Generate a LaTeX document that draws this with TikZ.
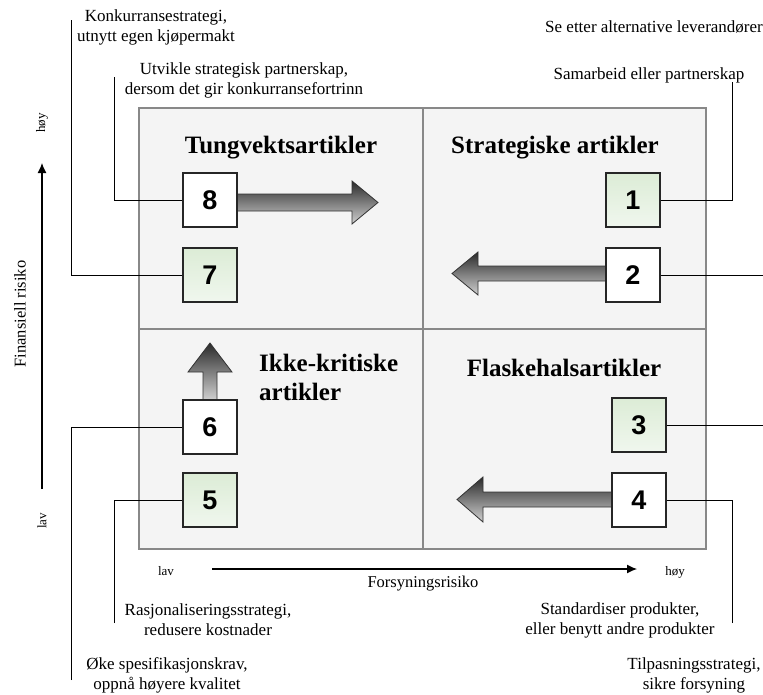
\documentclass[tikz,border=0pt]{standalone}
\usepackage{fontspec}
\setmainfont{Liberation Serif}
\newfontfamily\numfont{Liberation Sans}
\usetikzlibrary{arrows.meta}
\definecolor{quadfill}{HTML}{F4F4F4}
\definecolor{quadline}{HTML}{888888}
\definecolor{greentop}{HTML}{DCECD6}
\definecolor{greenbot}{HTML}{F0F7EE}
\definecolor{arrdark}{HTML}{2A2A2A}
\definecolor{arrlight}{HTML}{D0D0D0}
\tikzset{
  quad/.style={draw=quadline, line width=1.5pt, fill=quadfill},
  numbox/.style={draw=black!85, line width=1.1pt, minimum size=54pt, inner sep=0pt,
    font=\numfont\bfseries\fontsize{27}{27}\selectfont, fill=white},
  greenbox/.style={numbox, top color=greentop, bottom color=greenbot},
  note/.style={align=center, font=\fontsize{17}{20}\selectfont, inner sep=0pt},
  quadtitle/.style={font=\bfseries\fontsize{25}{29}\selectfont, inner sep=0pt},
  axislab/.style={font=\fontsize{13}{15}\selectfont, inner sep=0pt},
  axistitle/.style={font=\fontsize{16.5}{19}\selectfont, inner sep=0pt},
  conn/.style={draw=black, line width=1pt},
  bigarrow/.style={draw=black!80, line width=0.8pt, top color=arrdark, bottom color=arrlight},
  axisarrow/.style={draw=black, line width=1.2pt, -{Latex[length=10pt,width=9pt]}}
}
\begin{document}
\begin{tikzpicture}[x=1pt, y=-1pt]
\useasboundingbox (0,0) rectangle (763,694);
\fill[white] (0,0) rectangle (763,694);

% quadrants
\draw[quad] (139,108) rectangle (706,549);
\draw[quadline, line width=1.5pt] (423,108) -- (423,549);
\draw[quadline, line width=1.5pt] (139,329) -- (706,329);

% quadrant titles
\node[quadtitle] (qtl) at (281,148) {Tungvektsartikler};
\node[quadtitle] (qtr) at (555,148) {Strategiske artikler};
\node[quadtitle, align=left, anchor=west] (qbl) at (259,377) {Ikke-kritiske\\artikler};
\node[quadtitle] (qbr) at (564,368) {Flaskehalsartikler};

% arrows (drawn before boxes)
\draw[bigarrow] (237,194) -- (352,194) -- (352,181) -- (378,202.5) -- (352,224) -- (352,211) -- (237,211) -- cycle;
\draw[bigarrow] (606,266) -- (478,266) -- (478,252) -- (452,273.5) -- (478,295) -- (478,281) -- (606,281) -- cycle;
\draw[bigarrow] (612,492) -- (483,492) -- (483,477) -- (457,499.5) -- (483,522) -- (483,507) -- (612,507) -- cycle;
\draw[bigarrow] (203,400) -- (203,372) -- (188,372) -- (210,343) -- (232,372) -- (217,372) -- (217,400) -- cycle;

% numbered boxes
\node[greenbox] (n1) at (633,200) {1};
\node[numbox]   (n2) at (633,275) {2};
\node[greenbox] (n3) at (639,425) {3};
\node[numbox]   (n4) at (639,500) {4};
\node[greenbox] (n5) at (210,500) {5};
\node[numbox]   (n6) at (210,427) {6};
\node[greenbox] (n7) at (210,275) {7};
\node[numbox]   (n8) at (210,200) {8};

% notes
\node[note] (t7) at (156,27) {Konkurransestrategi,\\utnytt egen kjøpermakt};
\node[note] (t8) at (244,80) {Utvikle strategisk partnerskap,\\dersom det gir konkurransefortrinn};
\node[note] (t2) at (654,27) {Se etter alternative leverandører};
\node[note] (t1) at (649,75) {Samarbeid eller partnerskap};
\node[note] (t4) at (620,620) {Standardiser produkter,\\eller benytt andre produkter};
\node[note] (t3) at (694,675) {Tilpasningsstrategi,\\sikre forsyning};
\node[note] (t5) at (208,620) {Rasjonaliseringsstrategi,\\redusere kostnader};
\node[note] (t6) at (167,675) {Øke spesifikasjonskrav,\\oppnå høyere kvalitet};

% connectors
\coordinate (c1) at (732,82);
\coordinate (c2) at (763,275);
\coordinate (c3) at (763,425);
\coordinate (c4) at (732,623);
\coordinate (c5) at (114,623);
\coordinate (c6) at (71,680);
\coordinate (c7) at (71,20);
\coordinate (c8) at (114,77);
\draw[conn] (c1) |- (n1.east);
\draw[conn] (n2.east) -- (c2);
\draw[conn] (n3.east) -- (c3);
\draw[conn] (c4) |- (n4.east);
\draw[conn] (c5) |- (n5.west);
\draw[conn] (c6) |- (n6.west);
\draw[conn] (c7) |- (n7.west);
\draw[conn] (c8) |- (n8.west);

% axes
\coordinate (hx0) at (212,569);
\coordinate (hx1) at (637,569);
\draw[axisarrow] (hx0) -- (hx1);
\node[axislab] (hlav) at (166,571) {lav};
\node[axislab] (hhoy) at (675,572) {høy};
\node[axistitle] (hlab) at (423,584) {Forsyningsrisiko};

\coordinate (vy0) at (42,489);
\coordinate (vy1) at (42,163);
\draw[axisarrow] (vy0) -- (vy1);
\node[axislab, rotate=90] (vlav) at (42,521) {lav};
\node[axislab, rotate=90] (vhoy) at (42,123) {høy};
\node[axistitle, rotate=90] (vlab) at (20,314) {Finansiell risiko};
\end{tikzpicture}
\end{document}
